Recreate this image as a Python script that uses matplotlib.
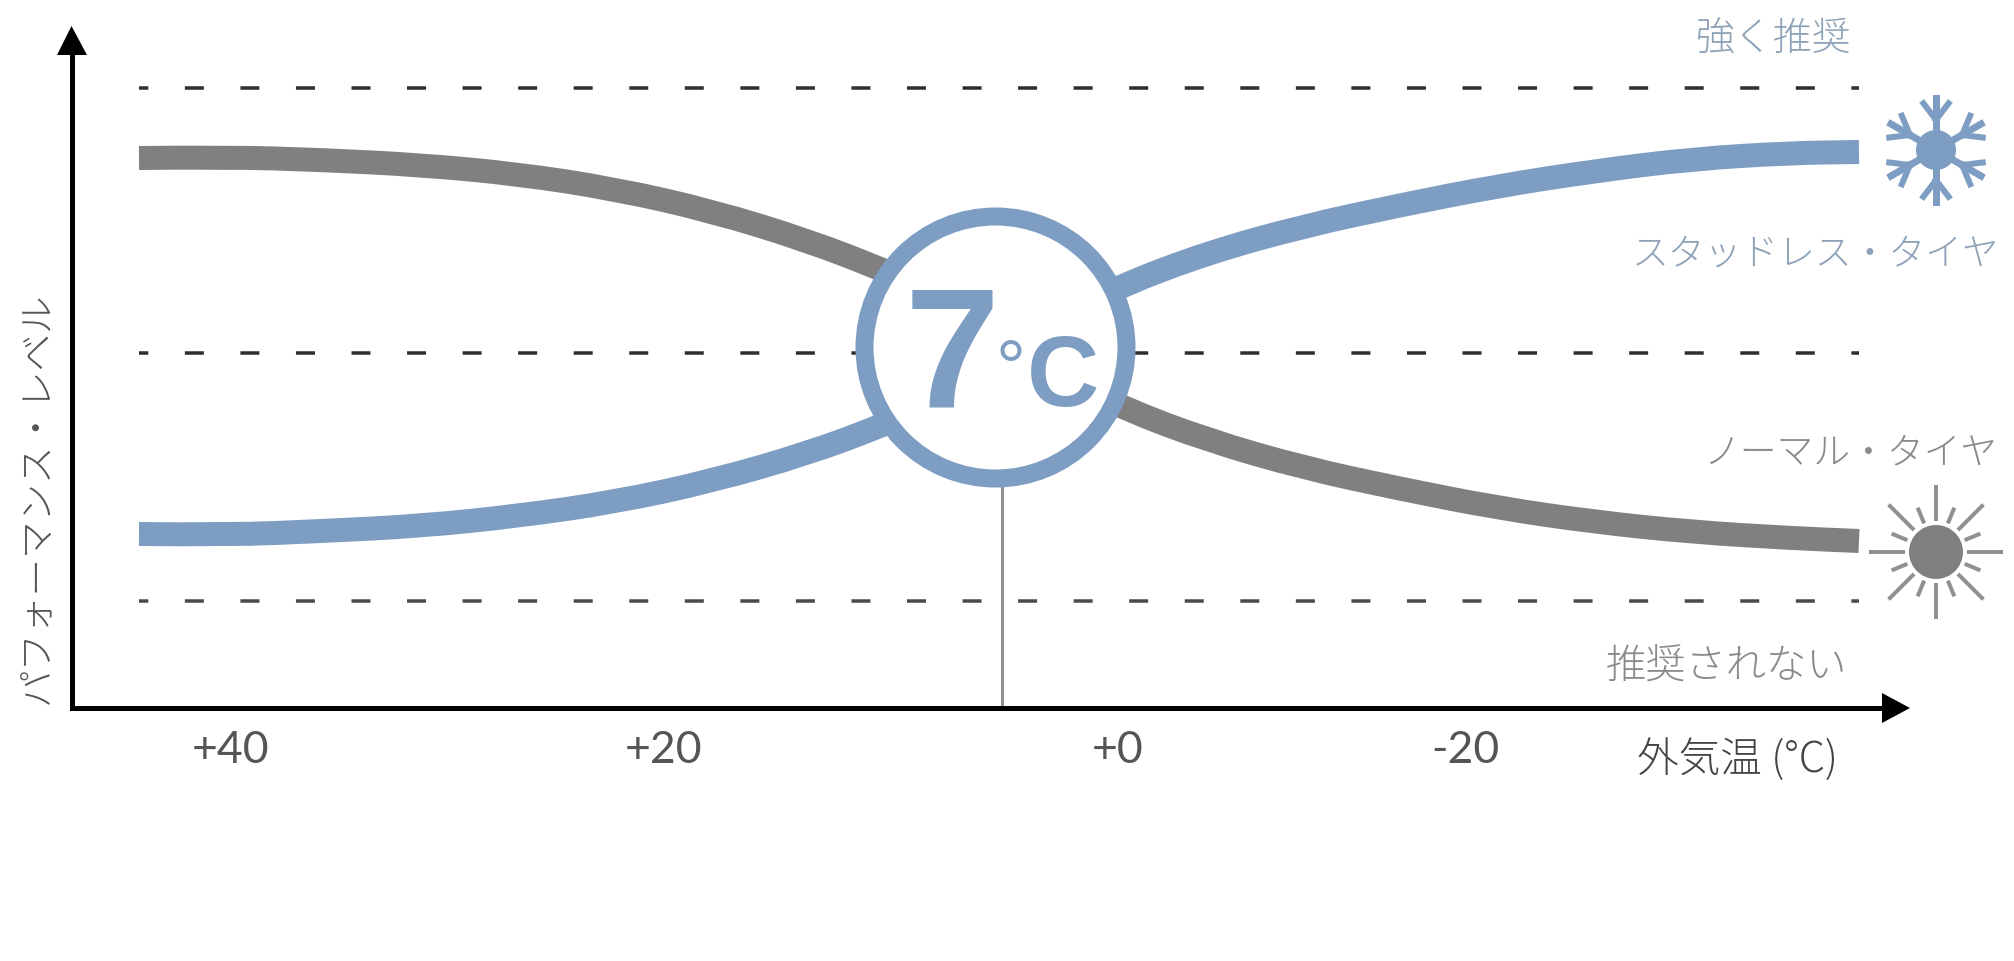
import numpy as np
import matplotlib
matplotlib.use("Agg")
from matplotlib import pyplot as plt
from matplotlib.patches import Circle, Polygon, PathPatch
from matplotlib.path import Path

plt.rcParams['font.family'] = ['Noto Sans CJK JP', 'DejaVu Sans']

gray_left_x = [139, 227, 324, 421, 518, 615, 712, 809, 881, 905]
gray_left_y = [159, 158, 161, 166, 175, 190, 212, 242, 270, 281]
gray_right_x = [1095, 1125, 1207, 1304, 1401, 1498, 1595, 1692, 1789, 1859]
gray_right_y = [395, 410, 441, 469, 490, 509, 523, 533, 539, 542]
blue_left_x = [139, 227, 324, 421, 518, 615, 712, 809, 881, 905]
blue_left_y = [535, 536, 532, 527, 517, 503, 482, 454, 427, 416]
blue_right_x = [1095, 1120, 1207, 1304, 1401, 1498, 1595, 1692, 1789, 1859]
blue_right_y = [300, 287, 254, 227, 206, 187, 172, 160, 154, 153]

dash_levels = [89, 354, 602]
dash_colors = ['#2e2e2e', '#2e2e2e', '#4a4a4a']
marker_x = 1001.5
tick_pos = [231, 664, 1118, 1465]
tick_labels = ['+40', '+20', '+0', '-20']

BLUE = '#7d9dc3'
GRAY = '#808080'
PX = 72 / 100  # points per pixel at dpi 100


def draw_curve(ax, xs, ys, color):
    # quadratic pieces between the midpoints so the band stays smooth
    pts = list(zip(xs, ys))
    verts = [pts[0]]
    codes = [Path.MOVETO]
    for i in range(1, len(pts) - 1):
        mid = ((pts[i][0] + pts[i + 1][0]) / 2, (pts[i][1] + pts[i + 1][1]) / 2)
        verts += [pts[i], mid]
        codes += [Path.CURVE3, Path.CURVE3]
    verts.append(pts[-1])
    codes.append(Path.LINETO)
    ax.add_patch(PathPatch(Path(verts, codes), fc='none', ec=color, lw=24 * PX, capstyle='butt', zorder=2))


def draw_flake(ax, cx, cy, r):
    for a in np.radians(np.arange(30, 390, 60)):
        ax.plot([cx, cx + r * np.cos(a)], [cy, cy + r * np.sin(a)], color=BLUE, lw=7 * PX, zorder=3)
        bx, by = cx + 0.58 * r * np.cos(a), cy + 0.58 * r * np.sin(a)
        for s in (-0.65, 0.65):
            ax.plot([bx, bx + 0.4 * r * np.cos(a + s)], [by, by + 0.4 * r * np.sin(a + s)],
                    color=BLUE, lw=6 * PX, zorder=3)
    ax.add_patch(Circle((cx, cy), 20, fc=BLUE, ec='none', zorder=3))


def draw_sun(ax, cx, cy):
    ax.add_patch(Circle((cx, cy), 27, fc=GRAY, ec='none', zorder=3))
    for i in range(16):
        a = np.radians(i * 22.5)
        r1 = 65 if i % 2 == 0 else 46
        ax.plot([cx + 33 * np.cos(a), cx + r1 * np.cos(a)], [cy + 33 * np.sin(a), cy + r1 * np.sin(a)],
                color='#909090', lw=4 * PX, zorder=3)


fig = plt.figure(figsize=(20.14, 9.62), dpi=100)
ax = fig.add_axes([0, 0, 1, 1])
ax.set_xlim(0, 2014)
ax.set_ylim(962, 0)
ax.axis('off')

for y, c in zip(dash_levels, dash_colors):
    ax.plot([139, 1859], [y, y], color=c, lw=3.5 * PX, zorder=1,
            linestyle=(9.7 / 3.5, (19 / 3.5, 36.55 / 3.5)), dash_capstyle='butt')

draw_curve(ax, gray_left_x, gray_left_y, GRAY)
draw_curve(ax, gray_right_x, gray_right_y, GRAY)
draw_curve(ax, blue_left_x, blue_left_y, BLUE)
draw_curve(ax, blue_right_x, blue_right_y, BLUE)

# axes arrows
ax.plot([71.5, 71.5], [56, 709], color='black', lw=5 * PX, solid_capstyle='projecting', zorder=4)
ax.plot([71.5, 1882], [709, 709], color='black', lw=5 * PX, solid_capstyle='butt', zorder=4)
ax.add_patch(Polygon([(71.5, 27), (57, 56), (87, 56)], fc='black', ec='none', zorder=4))
ax.add_patch(Polygon([(1910, 709), (1882, 694), (1882, 724)], fc='black', ec='none', zorder=4))

ax.plot([marker_x, marker_x], [480, 709], color='#939393', lw=3 * PX, zorder=3)

# the 7 degree badge
ax.add_patch(Circle((995.5, 348.5), 131, fc='white', ec=BLUE, lw=18 * PX, zorder=5))
ax.text(952, 407, '7', family='Liberation Sans', weight='bold', fontsize=123, color=BLUE,
        ha='center', va='baseline', zorder=6)
ax.text(1011, 392, '°', family='Liberation Sans', fontsize=54, color=BLUE,
        ha='center', va='baseline', zorder=6)
ax.text(1063, 406, 'C', family='Liberation Sans', weight='bold', fontsize=72, color=BLUE,
        ha='center', va='baseline', zorder=6)

draw_flake(ax, 1936, 151, 52)
draw_sun(ax, 1936, 553)

for p, t in zip(tick_pos, tick_labels):
    ax.text(p, 751, t, family='Lato', fontsize=32, color='#555555', ha='center', va='center')

ax.text(1773, 40, '強く推奨', fontsize=28, color='#8fa3b8', weight='light', ha='center', va='center')
ax.text(1816, 254, 'スタッドレス・タイヤ', fontsize=26.5, color='#8fa3b8', weight='light', ha='center', va='center')
ax.text(1850, 453, 'ノーマル・タイヤ', fontsize=26.5, color='#8a8a8a', weight='light', ha='center', va='center')
ax.text(1727, 667, '推奨されない', fontsize=29, color='#8a8a8a', weight='light', ha='center', va='center')
ax.text(1637, 760, '外気温 (°C)', fontsize=30, color='#444444', weight='light', ha='left', va='center')
ax.text(37, 498, 'パフォーマンス・レベル', fontsize=27, color='#555555', weight='light', rotation=90,
        ha='center', va='center')

fig.savefig('out.png', dpi=100)
